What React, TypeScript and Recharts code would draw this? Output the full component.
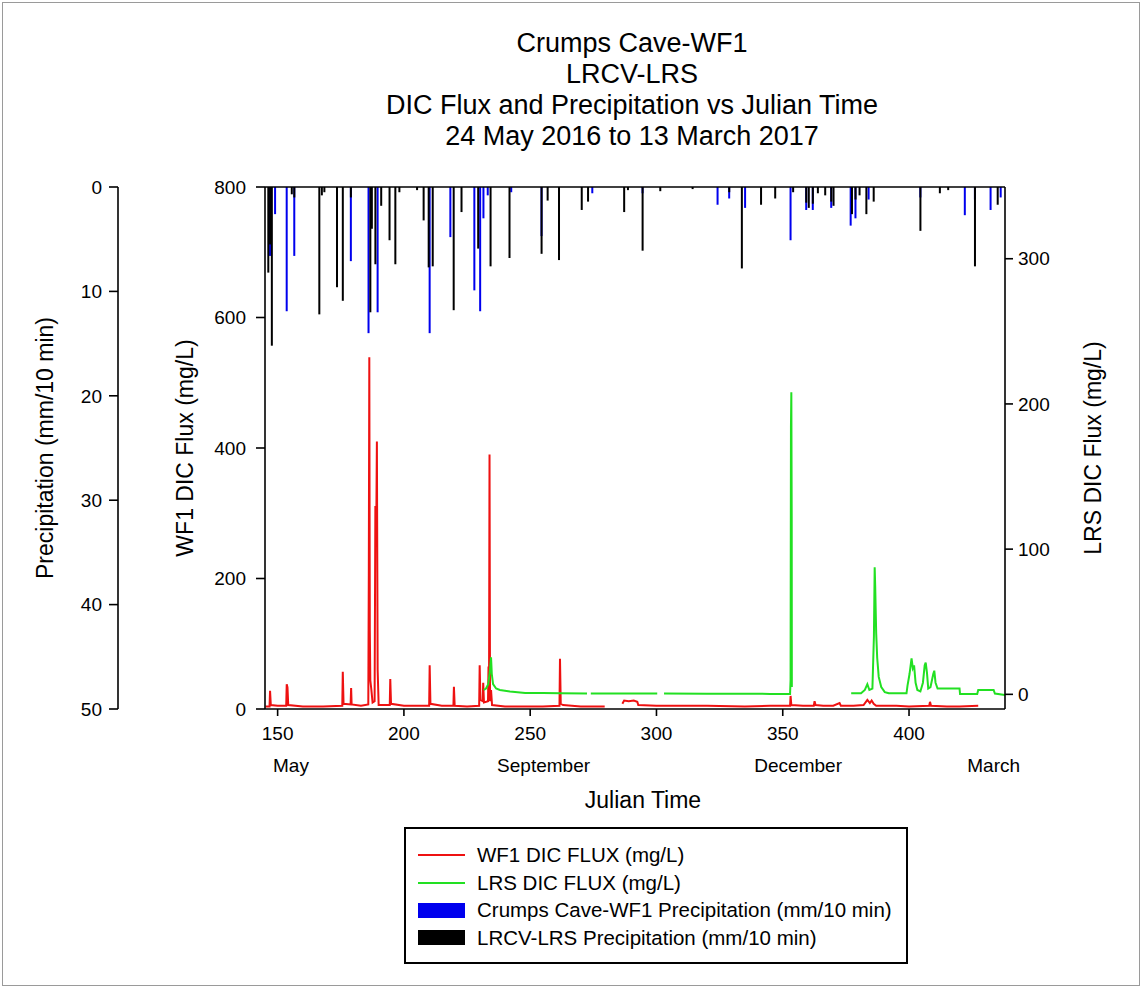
import React from 'react';
import { ComposedChart, Line, Bar, XAxis, YAxis, ReferenceLine, Label } from 'recharts';

const FONT = '"Liberation Sans", Arial, Helvetica, sans-serif';

const titleLines = [
  'Crumps Cave-WF1',
  'LRCV-LRS',
  'DIC Flux and Precipitation vs Julian Time',
  '24 May 2016 to 13 March 2017',
];

const dayTicks = [150, 200, 250, 300, 350, 400];
const monthTickDays = [155.3, 255.3, 356.1, 433.5];
const monthNames = ['May', 'September', 'December', 'March'];
const wf1Ticks = [0, 200, 400, 600, 800];
const lrsTicks = [0, 100, 200, 300];
const precipTicks = [0, 10, 20, 30, 40, 50];

// WF1 DIC flux (mg/L), left axis
const wf1Days = [
  145.2, 146.8, 147.0, 147.3, 150, 153.4, 153.6, 153.9, 154.2, 160, 168, 175.6, 175.8, 176.1,
  178.9, 179.1, 179.3, 183, 185.9, 186.1, 186.3, 186.5, 186.7, 187.1, 187.6, 188.4, 188.7,
  189.0, 189.3, 189.6, 190.0, 194.4, 194.6, 194.9, 200, 205, 210.0, 210.2, 210.5, 215, 219.6,
  219.8, 220.1, 225, 229.8, 230.0, 230.3, 231.2, 231.4, 231.7, 233.3, 233.5, 233.7, 233.9,
  234.1, 234.5, 234.9, 240, 250, 255, 261.6, 261.8, 262.1, 263, 270, 279.5, 283, 286.5, 287.2,
  289, 291, 292.4, 292.8, 300, 320, 335, 345, 352.9, 353.1, 353.4, 358, 362.3, 362.6, 363, 366,
  370, 372.5, 373, 378, 382, 383.5, 384.5, 385.2, 386, 387, 395, 400, 408, 408.3, 408.7, 415,
  420, 427.4,
];
const wf1Values = [
  4, 4, 28, 6, 5, 5, 38, 33, 6, 4, 4, 5, 57, 8,
  7, 32, 7, 5, 7, 205, 539, 120, 44, 30, 10, 12, 311,
  250, 410, 60, 6, 6, 46, 8, 5, 5, 5, 67, 8, 5, 5,
  34, 5, 4, 5, 67, 14, 12, 40, 10, 12, 65, 20, 390,
  12, 29, 6, 4, 4, 4, 5, 77, 8, 6, 4, 4, null, 8, 13,
  12, 13, 11, 6, 5, 5, 4, 5, 5, 20, 6, 5, 5, 12, 6, 5,
  5, 9, 5, 5, 6, 14, 9, 13, 8, 5, 5, 4, 5, 11, 5, 4,
  4, 5,
];

// LRS DIC flux (mg/L), right axis
const lrsDays = [
  231.6, 232.5, 233.4, 233.9, 234.5, 234.8, 235.3, 236.5, 238, 242, 248, 255, 262, 272.5, 273.3,
  274, 285, 300.3, 301.7, 303, 320, 335, 345, 352.9, 353.1, 353.25, 353.4, 353.55, 353.6, 365,
  377.1, 381, 382.5, 383.5, 384.3, 385.5, 386.1, 386.4, 386.6, 386.8, 387.0, 387.4, 388, 389,
  390.4, 392, 399, 399.4, 400.2, 401, 401.5, 402, 402.6, 403.3, 404.5, 405.5, 406.2, 406.6,
  407.1, 407.6, 408.5, 409.6, 410, 410.5, 411.3, 413, 420, 420.2, 427, 427.4, 433.5, 434, 438,
];
const lrsValues = [
  3, 4, 7, 14, 25.5, 14, 7, 4, 3, 2, 1, 1, 0.8, 0.6, null,
  0.6, 0.5, 0.5, null, 0.5, 0.4, 0.4, 0.3, 0.3, 10, 184, 208, 120, 5, null,
  0.7, 0.7, 3, 7, 3, 4, 40, 87.5, 75, 58, 42, 25, 12, 5,
  1.5, 0.7, 0.7, 6, 14, 24.8, 18, 20, 8, 3, 2, 8, 20, 21.8,
  15, 4, 5, 14, 16.3, 8, 4, 4.1, 4, 0.2, 0.3, 3, 3, 0.5, -0.5,
];

// Precipitation (mm/10 min)
const precipDays = [
  146.3, 147.0, 147.7, 149.0, 153.6, 155.6, 156.6, 166.5, 167.5, 168.5, 173.5, 175.8, 179.0,
  186.0, 186.7, 187.3, 188.7, 189.6, 191.0, 194.3, 196.6, 198.2, 205.2, 207.8, 209.8, 210.2,
  211.4, 218.4, 219.7, 222.8, 227.9, 229.4, 230.2, 231.5, 233.2, 234.3, 241.8, 242.5, 254.5,
  256.9, 261.4, 270.4, 272.9, 274.6, 287.2, 288.7, 294.5, 301.5, 314.3, 324.2, 328.8, 333.8,
  335.1, 341.4, 347.0, 353.1, 354.1, 359.3, 360.3, 361.9, 363.9, 366.8, 369.2, 370.1, 376.9,
  377.4, 378.8, 380.4, 383.1, 384.0, 386.0, 404.5, 412.2, 415.5, 422.1, 426.1, 432.3, 435.1,
  436.3,
];
const blueRain = [
  null, 6.6, null, 2.6, 11.9, null, 6.6, null, null, null, null, null, 7.1,
  14.0, null, null, null, 12.0, null, null, null, null, null, null, null, 14.0,
  null, 4.8, null, null, 9.9, null, 11.9, 3.0, 0.8, null, null, 0.5, 4.7,
  null, null, null, null, 0.6, null, null, 0.6, null, null, 1.7, 1.1, null,
  2.0, null, null, 5.1, null, 2.2, null, 2.2, null, null, 2.0, null, 3.7,
  null, 3.0, null, null, 1.2, null, 1.0, null, null, 2.7, 1.2, 2.2, null,
  1.0,
];
const blackRain = [
  8.2, 5.5, 15.2, null, null, 0.7, 1.0, 12.2, 0.8, 0.5, 9.6, 10.9, 1.0,
  null, 12.0, 4.0, 7.4, null, 1.8, 5.1, 7.4, 0.5, 0.3, 3.2, 7.7, null,
  7.6, null, 11.8, 2.4, null, 5.9, null, null, null, 7.6, 6.8, null, 6.4,
  1.3, 7.0, 2.2, 1.4, null, 2.4, 0.3, 6.1, 0.4, 0.2, null, 0.5, 7.8,
  null, 1.7, 1.1, null, 0.5, 1.5, 2.0, 1.6, 0.6, 0.8, 1.4, 1.8, null,
  2.6, 1.2, 0.8, 2.6, null, 1.4, 4.2, 0.6, 0.3, null, 7.6, null, 1.7,
  null,
];

const wf1Data = wf1Days.map((d, i) => ({ day: d, wf1: wf1Values[i] }));
const lrsData = lrsDays.map((d, i) => ({ day: d, lrs: lrsValues[i] }));
const precipData = precipDays.map((d, i) => ({ day: d, blue: blueRain[i], black: blackRain[i] }));

const RED = '#ee1111';
const GREEN = '#22e022';
const BLUE = '#0000ee';
const BLACK = '#000000';

const legendItems = [
  { label: 'WF1 DIC FLUX (mg/L)', color: RED, kind: 'line' },
  { label: 'LRS DIC FLUX (mg/L)', color: GREEN, kind: 'line' },
  { label: 'Crumps Cave-WF1 Precipitation (mm/10 min)', color: BLUE, kind: 'rect' },
  { label: 'LRCV-LRS Precipitation (mm/10 min)', color: BLACK, kind: 'rect' },
];

const tickStyle = { fontSize: 19, fill: '#000', fontFamily: FONT };
const axisTitleStyle = { fontSize: 23, fill: '#000', fontFamily: FONT, textAnchor: 'middle' as const };

// axis ids: left axes are stacked in id order, "a" next to the plot, "b" outside it
const WF1_AXIS = 'a_wf1';
const PRECIP_AXIS = 'b_precip';

// thin precipitation stick, fixed 2px wide, centred on the bar's slot
const RainStick = (props: any) => {
  const { x, y, width, height, fill } = props;
  if (x == null || y == null || !height) return null;
  const cx = x + (width || 0) / 2;
  const top = Math.min(y, y + height);
  const h = Math.abs(height);
  return <rect x={cx - 1} y={top} width={2} height={h} fill={fill} />;
};

export default function App() {
  return (
    <div style={{ position: 'absolute', left: 0, top: 0, width: 1143, height: 989, background: '#fff', fontFamily: FONT }}>
      <div style={{ position: 'absolute', left: 2, top: 2, width: 1136, height: 982, border: '1px solid #9a9a9a' }} />
      <div style={{ position: 'absolute', left: 332, top: 28, width: 600, textAlign: 'center', fontSize: 27, lineHeight: '31px', color: '#000' }}>
        {titleLines.map((t) => (
          <div key={t}>{t}</div>
        ))}
      </div>
      <div style={{ position: 'absolute', left: 0, top: 0 }}>
        <ComposedChart
          width={1143}
          height={989}
          data={precipData}
          margin={{ top: 187, right: 0, bottom: 200, left: 0 }}
          barGap={0}
        >
          <XAxis
            xAxisId="days"
            dataKey="day"
            type="number"
            domain={[145, 438]}
            allowDataOverflow
            ticks={dayTicks}
            interval={0}
            height={40}
            tickSize={7}
            tickMargin={11}
            tick={tickStyle}
            axisLine={{ stroke: '#000', strokeWidth: 1.6 }}
            tickLine={{ stroke: '#000', strokeWidth: 1.6 }}
          />
          <XAxis
            xAxisId="months"
            dataKey="day"
            type="number"
            domain={[145, 438]}
            allowDataOverflow
            ticks={monthTickDays}
            interval={0}
            height={40}
            tickSize={0}
            tickMargin={10}
            axisLine={false}
            tickLine={false}
            tick={{ ...tickStyle, fontSize: 19 }}
            tickFormatter={(v: number) => monthNames[monthTickDays.indexOf(v)] ?? ''}
          >
            <Label value="Julian Time" position="bottom" offset={3} dx={8} style={axisTitleStyle} />
          </XAxis>
          <YAxis
            yAxisId={WF1_AXIS}
            orientation="left"
            type="number"
            domain={[0, 800]}
            ticks={wf1Ticks}
            interval={0}
            width={147}
            tickSize={9}
            tickMargin={10}
            tick={tickStyle}
            axisLine={{ stroke: '#000', strokeWidth: 1.6 }}
            tickLine={{ stroke: '#000', strokeWidth: 1.6 }}
          >
            <Label value="WF1 DIC Flux (mg/L)" angle={-90} position="insideLeft" offset={67} style={axisTitleStyle} />
          </YAxis>
          <YAxis
            yAxisId={PRECIP_AXIS}
            orientation="left"
            type="number"
            domain={[0, 50]}
            reversed
            ticks={precipTicks}
            interval={0}
            width={118}
            tickSize={9}
            tickMargin={7}
            tick={tickStyle}
            axisLine={{ stroke: '#000', strokeWidth: 1.6 }}
            tickLine={{ stroke: '#000', strokeWidth: 1.6 }}
          >
            <Label value="Precipitation (mm/10 min)" angle={-90} position="insideLeft" offset={45} style={axisTitleStyle} />
          </YAxis>
          <YAxis
            yAxisId="lrs"
            orientation="right"
            type="number"
            domain={[-10.1, 349.4]}
            allowDataOverflow
            ticks={lrsTicks}
            interval={0}
            width={138}
            tickSize={8}
            tickMargin={5}
            tick={tickStyle}
            axisLine={{ stroke: '#000', strokeWidth: 1.6 }}
            tickLine={{ stroke: '#000', strokeWidth: 1.6 }}
          >
            <Label value="LRS DIC Flux (mg/L)" angle={-90} position="insideRight" offset={50} style={axisTitleStyle} />
          </YAxis>
          <ReferenceLine yAxisId={WF1_AXIS} xAxisId="days" y={800} stroke="#000" strokeWidth={1.6} />
          <Bar xAxisId="days" yAxisId={PRECIP_AXIS} dataKey="blue" fill={BLUE} shape={RainStick} isAnimationActive={false} />
          <Bar xAxisId="days" yAxisId={PRECIP_AXIS} dataKey="black" fill={BLACK} shape={RainStick} isAnimationActive={false} />
          <Line
            xAxisId="days"
            yAxisId={WF1_AXIS}
            data={wf1Data}
            dataKey="wf1"
            type="linear"
            stroke={RED}
            strokeWidth={2}
            dot={false}
            isAnimationActive={false}
          />
          <Line
            xAxisId="days"
            yAxisId="lrs"
            data={lrsData}
            dataKey="lrs"
            type="linear"
            stroke={GREEN}
            strokeWidth={2}
            dot={false}
            isAnimationActive={false}
          />
        </ComposedChart>
      </div>
      <div
        style={{
          position: 'absolute',
          left: 404,
          top: 827,
          width: 500,
          height: 133,
          border: '2px solid #000',
          background: '#fff',
        }}
      >
        {legendItems.map((it, i) => (
          <div
            key={it.label}
            style={{ position: 'absolute', left: 0, top: 14 + i * 27.5, height: 24, display: 'flex', alignItems: 'center' }}
          >
            {it.kind === 'line' ? (
              <div style={{ marginLeft: 12, width: 47, height: 2, background: it.color }} />
            ) : (
              <div style={{ marginLeft: 12, width: 47, height: 15, background: it.color }} />
            )}
            <span style={{ marginLeft: 12, fontSize: 20.5, color: '#000', whiteSpace: 'nowrap' }}>{it.label}</span>
          </div>
        ))}
      </div>
    </div>
  );
}
